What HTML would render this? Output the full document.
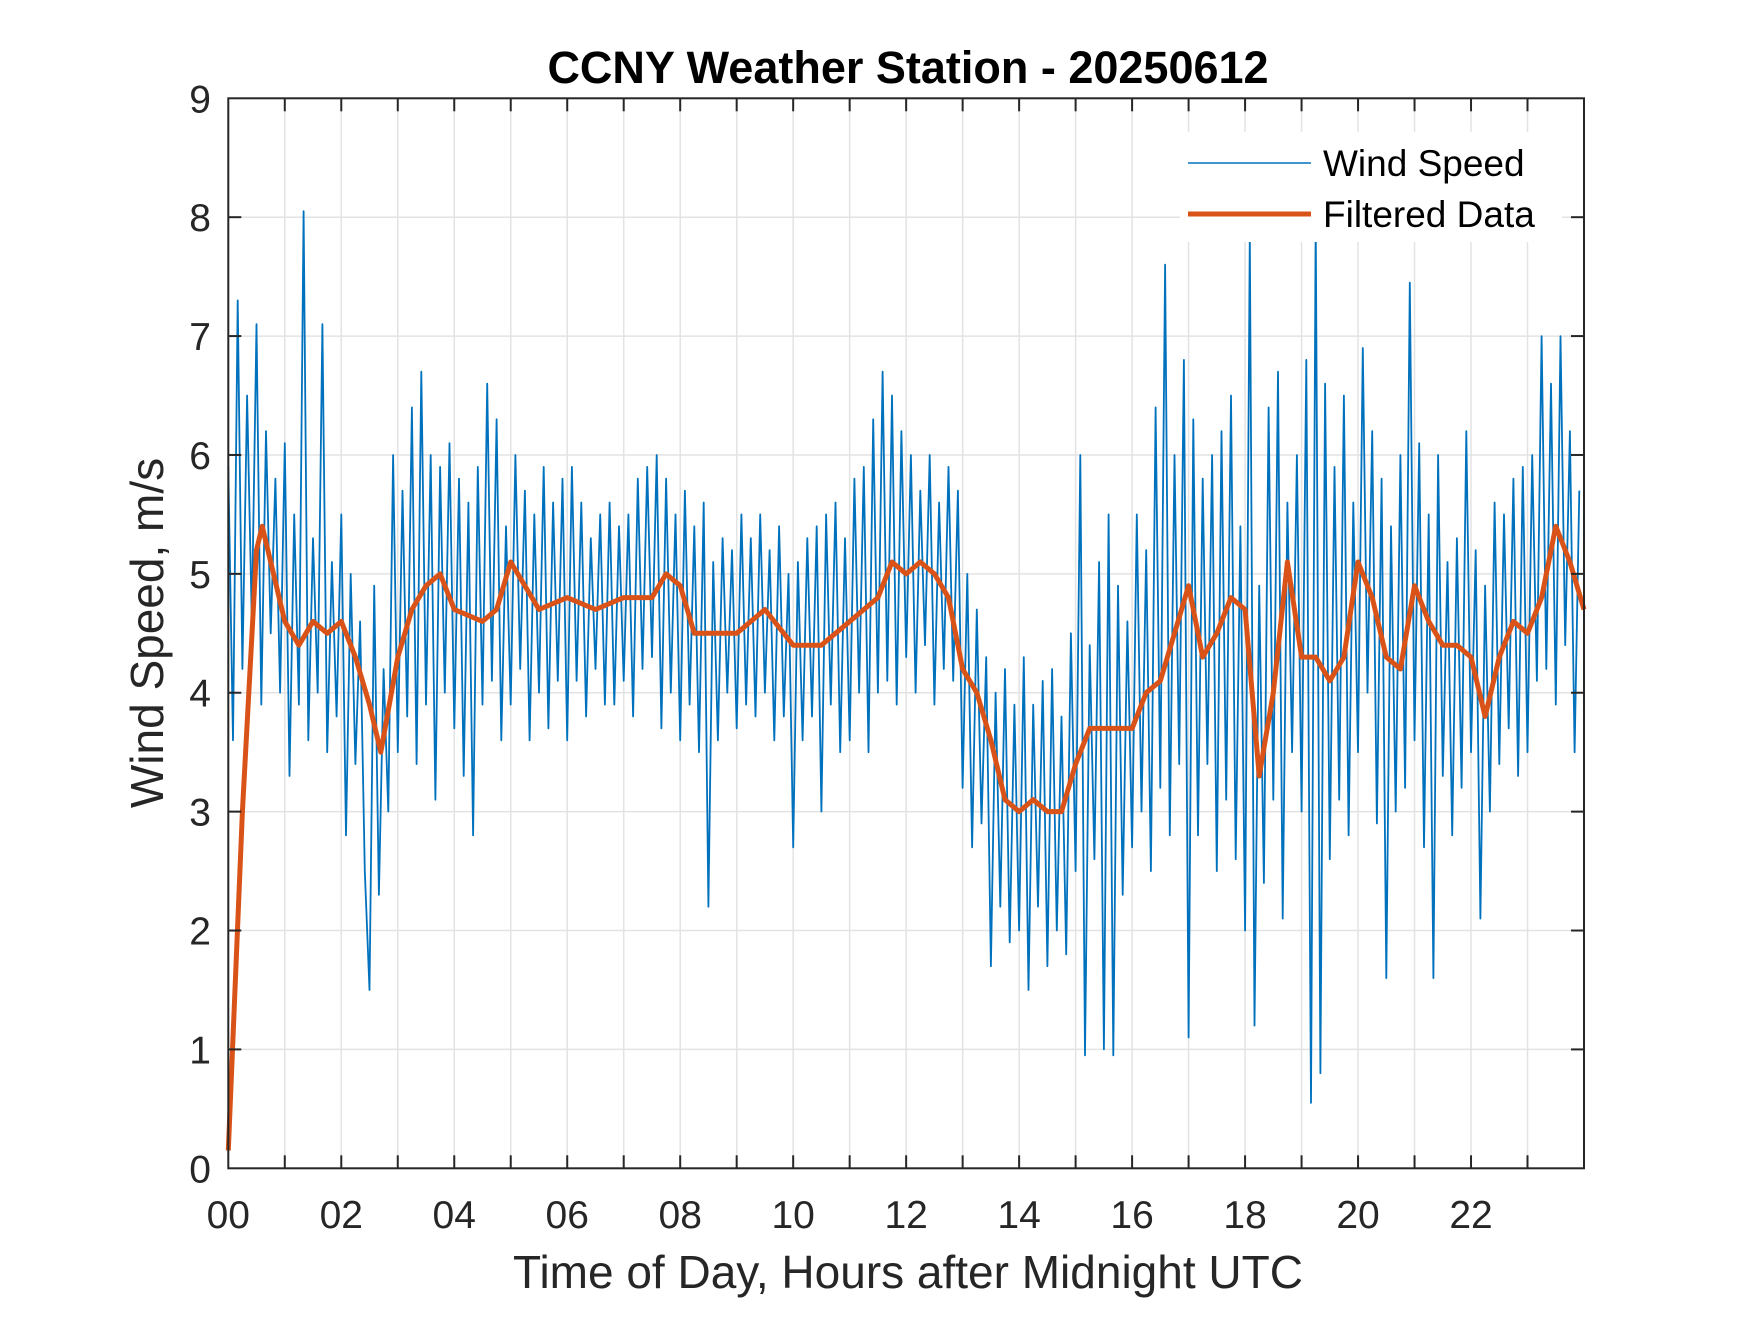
<!DOCTYPE html>
<html><head><meta charset="utf-8"><style>
html,body{margin:0;padding:0;background:#fff;}
svg text{font-family:"Liberation Sans",Arial,sans-serif;fill:#262626;}
</style></head>
<body>
<svg id="chart" width="1750" height="1313" viewBox="0 0 1750 1313" xmlns="http://www.w3.org/2000/svg">
<rect width="1750" height="1313" fill="#fff"/>
<g id="grid"></g>
<g id="series"></g>
<g id="axes"></g>
<text x="908" y="83" text-anchor="middle" font-size="45" font-weight="bold" style="fill:#000">CCNY Weather Station - 20250612</text>
<text x="908" y="1288" text-anchor="middle" font-size="46">Time of Day, Hours after Midnight UTC</text>
<text transform="translate(163,633) rotate(-90)" text-anchor="middle" font-size="46">Wind Speed, m/s</text>
<g>
<rect x="1180" y="132" width="382" height="110" fill="#fff"/>
<line x1="1188" y1="163" x2="1311" y2="163" stroke="#0072BD" stroke-width="1.5"/>
<text x="1323" y="176" font-size="37" style="fill:#000">Wind Speed</text>
<line x1="1188" y1="214" x2="1311" y2="214" stroke="#D95319" stroke-width="5"/>
<text x="1323" y="227" font-size="37" style="fill:#000">Filtered Data</text>
</g>
</svg>
<script>
const xTickLabels = ["00","02","04","06","08","10","12","14","16","18","20","22"];
const yTickLabels = [0,1,2,3,4,5,6,7,8,9];
const windSpeed = [
5.9,3.6,7.3,4.2,6.5,4.6,7.1,3.9,6.2,4.5,5.8,4.0,
6.1,3.3,5.5,3.9,8.05,3.6,5.3,4.0,7.1,3.5,5.1,3.8,
5.5,2.8,5.0,3.4,4.6,2.5,1.5,4.9,2.3,4.2,3.0,6.0,
3.5,5.7,3.8,6.4,3.4,6.7,3.9,6.0,3.1,5.9,4.0,6.1,
3.7,5.8,3.3,5.6,2.8,5.9,3.9,6.6,4.1,6.3,3.6,5.4,
3.9,6.0,4.2,5.7,3.6,5.5,4.0,5.9,3.7,5.6,4.1,5.8,
3.6,5.9,4.1,5.6,3.8,5.3,4.2,5.5,3.9,5.6,3.9,5.4,
4.1,5.5,3.8,5.8,4.2,5.9,4.3,6.0,3.7,5.8,4.0,5.5,
3.6,5.7,3.9,5.4,3.5,5.6,2.2,5.1,3.6,5.3,4.0,5.2,
3.7,5.5,3.9,5.3,3.8,5.5,4.0,5.2,3.6,5.4,3.8,5.0,
2.7,5.1,3.6,5.3,3.8,5.4,3.0,5.5,3.9,5.6,3.5,5.3,
3.6,5.8,4.0,5.9,3.5,6.3,4.0,6.7,4.1,6.5,3.9,6.2,
4.3,6.0,4.0,5.7,4.4,6.0,3.9,5.6,4.2,5.9,4.1,5.7,
3.2,5.0,2.7,4.7,2.9,4.3,1.7,4.0,2.2,4.2,1.9,3.9,
2.0,4.3,1.5,3.9,2.2,4.1,1.7,4.2,2.0,3.8,1.8,4.5,
2.5,6.0,0.95,4.4,2.6,5.1,1.0,5.5,0.95,4.9,2.3,4.6,
2.7,5.5,3.0,5.2,2.5,6.4,3.2,7.6,2.8,6.0,3.4,6.8,
1.1,6.3,2.8,5.8,3.4,6.0,2.5,6.2,3.1,6.5,2.6,5.4,
2.0,7.85,1.2,4.9,2.4,6.4,3.1,6.7,2.1,5.6,3.5,6.0,
3.0,6.8,0.55,8.0,0.8,6.6,2.6,5.9,3.1,6.5,2.8,5.6,
3.5,6.9,4.0,6.2,2.9,5.8,1.6,5.4,3.0,6.0,3.2,7.45,
3.6,6.1,2.7,5.5,1.6,6.0,3.3,5.1,2.8,5.3,3.2,6.2,
3.5,5.2,2.1,4.9,3.0,5.6,3.4,5.5,3.7,5.8,3.3,5.9,
3.5,6.0,4.1,7.0,4.2,6.6,3.9,7.0,4.4,6.2,3.5,5.7
];
const filteredHours = [0,0.25,0.5,0.6,0.75,1.0,1.25,1.5,1.75,2.0,2.25,2.5,2.7,3.0,3.25,3.5,3.75,4.0,4.5,4.75,5.0,5.5,6.0,6.5,7.0,7.5,7.75,8.0,8.25,8.5,9.0,9.5,10.0,10.5,11.0,11.5,11.75,12.0,12.25,12.5,12.75,13.0,13.25,13.5,13.75,14.0,14.25,14.5,14.75,15.0,15.25,15.5,15.75,16.0,16.25,16.5,16.75,17.0,17.25,17.5,17.75,18.0,18.25,18.5,18.75,19.0,19.25,19.5,19.75,20.0,20.25,20.5,20.75,21.0,21.25,21.5,21.75,22.0,22.25,22.5,22.75,23.0,23.25,23.5,23.75,24.0];
const filteredValues = [0.15,3.0,5.2,5.4,5.1,4.6,4.4,4.6,4.5,4.6,4.3,3.9,3.5,4.3,4.7,4.9,5.0,4.7,4.6,4.7,5.1,4.7,4.8,4.7,4.8,4.8,5.0,4.9,4.5,4.5,4.5,4.7,4.4,4.4,4.6,4.8,5.1,5.0,5.1,5.0,4.8,4.2,4.0,3.6,3.1,3.0,3.1,3.0,3.0,3.4,3.7,3.7,3.7,3.7,4.0,4.1,4.5,4.9,4.3,4.5,4.8,4.7,3.3,4.0,5.1,4.3,4.3,4.1,4.3,5.1,4.8,4.3,4.2,4.9,4.6,4.4,4.4,4.3,3.8,4.3,4.6,4.5,4.8,5.4,5.1,4.7];

const X0=228.3, X1=1584, Y0=1168.3, Y1=98.3;
const xScale = h => X0 + (X1-X0)*h/24;
const yScale = v => Y0 - (Y0-Y1)*v/9;
const NS="http://www.w3.org/2000/svg";
function mk(tag, attrs, parent){const e=document.createElementNS(NS,tag);for(const k in attrs)e.setAttribute(k,attrs[k]);parent.appendChild(e);return e;}
const grid=document.getElementById('grid'), axes=document.getElementById('axes'), series=document.getElementById('series');

for(let h=1;h<24;h++){
  const l=mk('line',{x1:xScale(h),x2:xScale(h),y1:Y1,y2:Y0,stroke:'#e3e3e3','stroke-width':1.5},grid);
  
  
}
for(let v=1;v<9;v++){
  const l=mk('line',{x1:X0,x2:X1,y1:yScale(v),y2:yScale(v),stroke:'#e3e3e3','stroke-width':1.5},grid);
  
  
}

let d='';
windSpeed.forEach((v,i)=>{const h=i*24/windSpeed.length;d+=(i?'L':'M')+xScale(h).toFixed(1)+','+yScale(v).toFixed(1);});
const ws=mk('path',{d:d,fill:'none',stroke:'#0072BD','stroke-width':1.8,'stroke-linejoin':'round'},series);


let d2='';
filteredValues.forEach((v,i)=>{d2+=(i?'L':'M')+xScale(filteredHours[i]).toFixed(1)+','+yScale(v).toFixed(1);});
const fl=mk('path',{d:d2,fill:'none',stroke:'#D95319','stroke-width':5,'stroke-linejoin':'round'},series);



const box=mk('rect',{x:X0,y:Y1,width:X1-X0,height:Y0-Y1,fill:'none',stroke:'#262626','stroke-width':2},axes);


for(let h=1;h<24;h++){
  mk('line',{x1:xScale(h),x2:xScale(h),y1:Y0,y2:Y0-13,stroke:'#262626','stroke-width':2},axes);
  mk('line',{x1:xScale(h),x2:xScale(h),y1:Y1,y2:Y1+13,stroke:'#262626','stroke-width':2},axes);
}
xTickLabels.forEach((t,i)=>{
  const e=mk('text',{x:xScale(i*2),y:1228,'text-anchor':'middle','font-size':39},axes);
  e.textContent=t;
  
  
});
yTickLabels.forEach(v=>{
  if(v>0&&v<9){
    mk('line',{x1:X0,x2:X0+13,y1:yScale(v),y2:yScale(v),stroke:'#262626','stroke-width':2},axes);
    mk('line',{x1:X1,x2:X1-13,y1:yScale(v),y2:yScale(v),stroke:'#262626','stroke-width':2},axes);
  }
  const e=mk('text',{x:211,y:yScale(v)+14,'text-anchor':'end','font-size':39},axes);
  e.textContent=v;
  
  
});
</script>
</body></html>
